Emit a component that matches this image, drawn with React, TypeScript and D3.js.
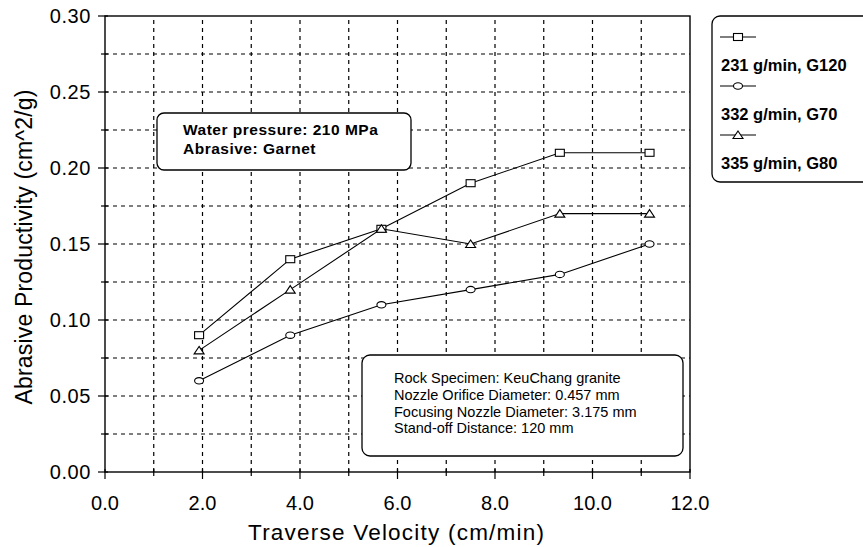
import * as d3 from 'd3'

const velocity = [1.93, 3.8, 5.67, 7.5, 9.33, 11.17]
const g120 = [0.09, 0.14, 0.16, 0.19, 0.21, 0.21]
const g70 = [0.06, 0.09, 0.11, 0.12, 0.13, 0.15]
const g80 = [0.08, 0.12, 0.16, 0.15, 0.17, 0.17]
const seriesNames = ['231 g/min, G120', '332 g/min, G70', '335 g/min, G80']
const xTicks = [0, 2, 4, 6, 8, 10, 12]
const yTicks = [0, 0.05, 0.1, 0.15, 0.2, 0.25, 0.3]
const noteTop = ['Water pressure: 210 MPa', 'Abrasive: Garnet']
const noteBottom = [
  'Rock Specimen: KeuChang granite',
  'Nozzle Orifice Diameter: 0.457 mm',
  'Focusing Nozzle Diameter: 3.175 mm',
  'Stand-off Distance: 120 mm',
]

const W = 863
const H = 547
const font = 'Arial, "Liberation Sans", Helvetica, sans-serif'

const Marker = (props: { kind: string; x: number; y: number }) => {
  const { kind, x, y } = props
  if (kind === 'square') return <rect x={x - 4.5} y={y - 3.5} width={9} height={7} fill="white" stroke="black" strokeWidth={1.1} />
  if (kind === 'circle') return <ellipse cx={x} cy={y} rx={4.5} ry={3.2} fill="white" stroke="black" strokeWidth={1.1} />
  return <path d={`M${x},${y - 4}L${x + 5},${y + 3.5}L${x - 5},${y + 3.5}Z`} fill="white" stroke="black" strokeWidth={1.1} />
}

export default function App() {
  const x = d3.scaleLinear().domain([0, 12]).range([105, 690])
  const y = d3.scaleLinear().domain([0, 0.3]).range([472, 16])

  const minorX = d3.range(0, 12.001, 1)
  const minorY = d3.range(0, 0.3001, 0.025)

  const series = [
    { name: seriesNames[0], values: g120, kind: 'square' },
    { name: seriesNames[1], values: g70, kind: 'circle' },
    { name: seriesNames[2], values: g80, kind: 'triangle' },
  ]

  const line = d3.line<number>()
    .x((_d, i) => x(velocity[i]))
    .y(d => y(d))

  return (
    <svg width={W} height={H} style={{ position: 'absolute', left: 0, top: 0, background: 'white' }} fontFamily={font}>
      {/* grid */}
      {minorX.slice(1, -1).map(v => (
        <line key={'gx' + v} x1={x(v)} x2={x(v)} y1={y(0)} y2={y(0.3)} stroke="black" strokeWidth={1.2} strokeDasharray="4,4" />
      ))}
      {minorY.slice(1, -1).map(v => (
        <line key={'gy' + v} x1={x(0)} x2={x(12)} y1={y(v)} y2={y(v)} stroke="black" strokeWidth={1.2} strokeDasharray="4,4" />
      ))}
      {/* ticks */}
      {minorX.map(v => (
        <line key={'tx' + v} x1={x(v)} x2={x(v)} y1={y(0) - 3} y2={y(0) + (v % 2 === 0 ? 7 : 4)} stroke="black" strokeWidth={1.2} />
      ))}
      {minorY.map((v, i) => (
        <line key={'ty' + v} x1={x(0) - (i % 2 === 0 ? 7 : 4)} x2={x(0) + 3} y1={y(v)} y2={y(v)} stroke="black" strokeWidth={1.2} />
      ))}
      {/* frame */}
      <rect x={x(0)} y={y(0.3)} width={x(12) - x(0)} height={y(0) - y(0.3)} fill="none" stroke="black" strokeWidth={1.4} />

      {/* tick labels */}
      {xTicks.map(v => (
        <text key={'lx' + v} x={x(v)} y={510} textAnchor="middle" fontSize={20}>{v.toFixed(1)}</text>
      ))}
      {yTicks.map(v => (
        <text key={'ly' + v} x={91} y={y(v) + 7} textAnchor="end" fontSize={20} letterSpacing={0.6}>{v.toFixed(2)}</text>
      ))}
      <text x={396} y={540} textAnchor="middle" fontSize={22.5} textLength={296} lengthAdjust="spacing">Traverse Velocity (cm/min)</text>
      <text transform="translate(32,247) rotate(-90)" textAnchor="middle" fontSize={23} textLength={315} lengthAdjust="spacing">Abrasive Productivity (cm^2/g)</text>

      {/* notes */}
      <rect x={157} y={113} width={254} height={57} rx={7} fill="white" stroke="black" strokeWidth={1.3} />
      {noteTop.map((t, i) => (
        <text key={t} x={183} y={135 + i * 19} fontSize={15.5} fontWeight="bold" letterSpacing={0.5}>{t}</text>
      ))}
      <rect x={362} y={355} width={321} height={101} rx={8} fill="white" stroke="black" strokeWidth={1.3} />
      {noteBottom.map((t, i) => (
        <text key={t} x={394} y={383 + i * 16.8} fontSize={14.5}>{t}</text>
      ))}

      {/* series */}
      {series.map(s => (
        <g key={s.name}>
          <path d={line(s.values) || ''} fill="none" stroke="black" strokeWidth={1.1} />
          {s.values.map((v, i) => (
            <Marker key={i} kind={s.kind} x={x(velocity[i])} y={y(v)} />
          ))}
        </g>
      ))}

      {/* legend */}
      <rect x={712} y={16} width={160} height={166} rx={8} fill="white" stroke="black" strokeWidth={1.3} />
      {series.map((s, i) => (
        <g key={'lg' + s.name} transform={`translate(0,${i * 49})`}>
          <line x1={720} x2={756} y1={37} y2={37} stroke="black" strokeWidth={1.1} />
          <Marker kind={s.kind} x={738} y={37} />
          <text x={721} y={71} fontSize={16.5} fontWeight="bold">{s.name}</text>
        </g>
      ))}
    </svg>
  )
}
